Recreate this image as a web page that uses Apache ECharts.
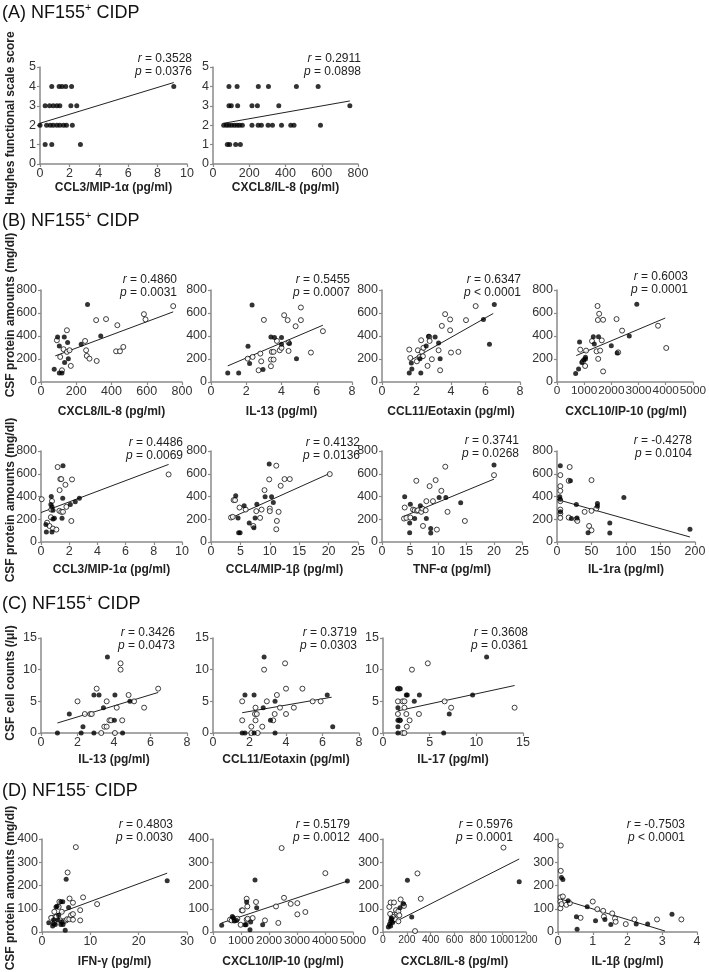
<!DOCTYPE html>
<html><head><meta charset="utf-8">
<script src="https://cdn.jsdelivr.net/npm/echarts@6/dist/echarts.min.js"></script>
<style>html,body{margin:0;padding:0;background:#fff}#c{width:709px;height:972px}</style>
</head><body><div id="c"></div>
<script>
// ---------- DATA ----------
// Panel A: Hughes functional scale score
const A1_filled = [[0.8,4],[1.3,4],[1.5,4],[1.75,4],[2.15,4],[9.1,4],
  [0.35,3],[0.65,3],[0.9,3],[1.15,3],[1.35,3],[2.1,3],[2.5,3],
  [0,2],[0.45,2],[0.7,2],[0.9,2],[1.15,2],[1.35,2],[1.6,2],[1.8,2],[2.2,2],
  [0.35,1],[0.8,1],[2.75,1]];
const A1_fit = [[0,2.1],[9.1,4.2]];
const A2_filled = [[88,4],[133,4],[250,4],[306,4],[460,4],[580,4],
  [88,3],[101,3],[136,3],[215,3],[245,3],[363,3],[755,3],
  [59,2],[74,2],[88,2],[103,2],[118,2],[133,2],[147,2],[162,2],[215,2],[249,2],[267,2],[304,2],[328,2],[378,2],[429,2],[447,2],[593,2],
  [79,1],[92,1],[125,1],[151,1]];
const A2_fit = [[59,2.1],[755,3.25]];

// Panel B: CSF protein amounts
const B1_filled = [[75,110],[94,392],[104,314],[104,78],[119,78],[132,392],[134,169],[151,343],[155,203],[228,328],[264,674],[339,401]];
const B1_open = [[90,363],[109,218],[119,102],[128,285],[147,450],[147,262],[162,276],[169,140],[250,357],[256,276],[260,227],[275,203],[313,538],[316,183],[369,547],[433,494],[426,267],[448,267],[467,305],[584,590],[593,544],[750,660]];
const B1_fit = [[81,227],[750,610]];

const B2_filled = [[0.95,78],[1.57,78],[2.1,311],[2.19,160],[2.33,670],[2.95,108],[3.4,392],[3.6,387],[4.0,387],[4.0,328],[4.45,334],[4.85,203]];
const B2_open = [[2.08,203],[2.36,218],[2.7,102],[2.8,247],[2.85,180],[3.0,540],[3.4,195],[3.4,137],[3.45,262],[3.55,262],[3.55,195],[3.74,357],[3.9,276],[4.0,297],[4.15,581],[4.35,538],[4.4,343],[4.4,270],[4.8,485],[5.1,648],[5.1,538],[5.67,256],[6.35,442]];
const B2_fit = [[0.95,140],[6.35,494]];

const B3_filled = [[1.58,78],[1.7,166],[1.73,113],[2.2,203],[2.25,78],[2.56,314],[2.7,398],[3.08,392],[3.28,340],[3.37,203],[5.88,544],[6.23,328],[6.51,674]];
const B3_open = [[1.58,282],[1.64,209],[2.02,180],[2.08,276],[2.18,218],[2.27,363],[2.31,262],[2.37,224],[2.4,297],[2.64,140],[2.74,392],[2.76,357],[2.89,198],[3.28,276],[3.37,102],[3.47,488],[3.66,590],[3.95,450],[3.95,544],[4.0,256],[4.43,262],[4.87,538],[5.43,660]];
const B3_fit = [[1.73,195],[6.45,596]];

const B4_filled = [[686,74],[794,113],[830,347],[915,169],[987,193],[1047,216],[1047,201],[1336,393],[1372,330],[1528,393],[1998,316],[2215,252],[2659,400],[2936,676]];
const B4_open = [[855,281],[951,178],[1035,139],[1071,273],[1288,356],[1456,267],[1492,661],[1504,539],[1552,593],[1516,201],[1588,273],[1648,362],[1697,541],[1697,92],[2191,547],[2251,258],[2395,447],[3718,489],[4019,296]];
const B4_fit = [[710,230],[3983,556]];

const B5_filled = [[0.38,88],[0.35,153],[0.73,400],[0.7,329],[0.78,309],[0.85,279],[0.85,203],[0.78,88],[0.95,209],[1.56,671],[1.49,209],[1.54,385],[2.08,329],[2.43,353],[2.72,385]];
const B5_open = [[0.05,376],[0.43,170],[0.6,141],[0.78,360],[0.73,285],[0.7,218],[0.85,118],[1.09,109],[1.18,659],[1.32,456],[1.37,553],[1.44,553],[1.3,274],[1.44,265],[1.56,265],[1.8,309],[1.73,503],[2.15,185],[2.2,550],[9.05,594]];
const B5_fit = [[0,259],[9.05,682]];

const B6_filled = [[4.2,406],[4.6,212],[4.7,82],[4.95,82],[5.64,318],[6.5,168],[7.3,126],[7.5,212],[7.8,332],[9.2,397],[9.9,685],[10.3,397],[10.6,347]];
const B6_open = [[3.4,215],[3.7,221],[3.85,368],[4.1,368],[4.85,303],[5.9,285],[7.2,141],[7.7,271],[8.35,212],[8.6,285],[9.1,456],[9.9,550],[10.0,294],[10.0,271],[11.1,671],[11.1,112],[11.2,185],[11.5,265],[11.85,494],[12.5,553],[13.4,553],[20.2,597]];
const B6_fit = [[3.4,212],[20.2,603]];

const B7_filled = [[4.05,397],[4.94,168],[4.94,82],[5.06,332],[5.83,206],[6.85,318],[7.92,206],[8.7,118],[8.7,79],[10.2,391],[11.4,391],[14.05,344],[20.0,676]];
const B7_open = [[4.05,303],[3.93,206],[4.35,212],[5.06,215],[5.54,285],[5.83,279],[6.13,538],[6.25,274],[6.43,279],[7.0,265],[7.2,294],[7.32,141],[7.8,279],[7.92,359],[8.5,491],[9.1,359],[9.58,544],[9.8,109],[10.6,450],[11.3,662],[11.7,265],[14.8,185],[20.0,588]];
const B7_fit = [[3.93,226],[20.0,553]];

const B8_filled = [[4.8,671],[3.9,397],[4.8,376],[4.8,265],[19.4,538],[20.8,206],[28,329],[29,212],[45,82],[58.6,338],[58.6,315],[76.5,168],[76.5,79],[96.9,391],[192.7,112]];
const B8_open = [[4.8,588],[4.8,491],[4.8,450],[4.8,359],[4.8,285],[4.8,250],[4.8,212],[18.4,659],[17,538],[17,215],[28,200],[29.5,185],[40,265],[46.5,141],[50,544],[50,274],[50,103],[57,294]];
const B8_fit = [[0,374],[192.7,44]];

// Panel C: CSF cell counts
const C1_filled = [[0.9,0],[1.55,3],[2.2,0],[2.3,1],[2.9,0],[2.9,6],[3.18,6],[3.42,4],[3.64,12],[4.05,6],[4.02,2],[4.47,0],[4.87,5]];
const C1_open = [[2.0,5],[2.4,3],[2.7,3],[2.78,3],[3.05,7],[3.3,0],[3.47,1],[3.6,1],[3.6,5],[3.75,2],[3.84,2],[4.05,0],[4.15,4],[4.36,11],[4.36,10],[4.45,2],[4.8,6],[5.1,5],[5.65,4],[6.42,7]];
const C1_fit = [[0.9,1.58],[6.42,6.4]];

const C2_filled = [[1.6,0],[1.75,0],[1.75,6],[2.25,6],[2.25,0],[2.8,12],[2.75,4],[3.15,2],[3.4,0],[3.4,5],[6.26,6],[6.56,1]];
const C2_open = [[1.6,2],[1.6,5],[2.1,0],[2.1,1],[2.33,4],[2.3,3],[2.4,3],[2.33,2],[2.45,0],[2.7,1],[2.8,10],[2.95,5],[3.3,2],[3.38,3],[3.5,6],[3.67,4],[3.95,11],[4.0,7],[4.0,3],[4.43,4],[4.9,7],[5.46,5],[5.9,5]];
const C2_fit = [[1.6,3.2],[6.5,5.65]];

const C3_filled = [[1.55,7],[1.85,7],[1.6,4],[1.6,2],[1.6,1],[1.6,0],[1.85,2],[2.5,6],[2.6,6],[3.35,5],[3.9,6],[6.5,0],[7.1,3],[9.6,6],[11.1,12]];
const C3_open = [[1.7,7],[1.6,5],[1.6,3],[1.77,2],[2.1,5],[2.3,5],[2.1,0],[2.3,0],[2.3,4],[2.5,3],[2.55,1],[2.85,2],[3.1,10],[3.85,3],[4.8,11],[6.6,5],[7.3,4],[14.1,4]];
const C3_fit = [[1.6,3.5],[14.1,7.5]];

// Panel D: NF155- CSF protein amounts
const D1_filled = [[1.4,40],[2.4,36],[2.4,53],[2.2,26],[2.75,32],[2.9,108],[3.1,111],[3.3,53],[3.45,72],[3.9,32],[3.9,130],[4.1,43],[4.3,130],[4.35,32],[4.8,7],[5.0,227],[5.5,105],[25.9,220]];
const D1_open = [[1.9,61],[2.55,87],[2.55,40],[2.97,65],[3.45,108],[3.6,130],[3.8,50],[4.1,87],[4.5,46],[5.0,50],[5.3,256],[5.2,55],[5.65,55],[5.7,144],[6.0,72],[6.4,77],[6.4,53],[6.4,126],[7.0,365],[7.9,94],[7.9,50],[8.5,149],[11.4,120]];
const D1_fit = [[1.4,65],[25.9,253]];

const D2_filled = [[310,29],[690,67],[726,61],[762,47],[845,50],[1143,31],[1179,31],[1202,129],[1321,10],[1345,43],[1500,224],[1560,104],[1774,31],[4800,219]];
const D2_open = [[607,53],[667,50],[786,53],[869,57],[1024,93],[1060,93],[988,31],[1202,53],[1202,143],[1226,110],[1238,57],[1417,60],[1536,129],[1857,50],[2250,110],[2333,39],[2452,361],[2536,147],[2774,121],[3012,124],[3012,76],[3298,86],[4012,253]];
const D2_fit = [[310,39],[4800,219]];

const D3_filled = [[45,22],[64,26],[73,55],[64,47],[81,41],[143,104],[171,122],[205,223],[241,65],[1143,216],[55,33],[70,60]];
const D3_open = [[53,108],[64,127],[92,127],[92,75],[101,55],[115,83],[109,94],[129,89],[129,46],[137,72],[148,140],[171,118],[176,112],[289,252],[269,4],[317,143],[1011,363],[80,66],[60,78]];
const D3_fit = [[45,29],[1143,314]];

const D4_filled = [[0.1,234],[0.14,226],[0.29,134],[0.53,66],[0.55,12],[0.84,109],[1.08,48],[1.35,54],[1.52,32],[2.25,34],[2.58,34],[3.28,76]];
const D4_open = [[0.08,372],[0.08,263],[0.07,149],[0.07,131],[0.07,102],[0.1,120],[0.14,153],[0.24,117],[0.34,124],[0.65,61],[1.0,131],[1.13,98],[1.3,91],[1.32,66],[1.56,80],[1.64,58],[1.66,44],[1.95,34],[2.2,54],[2.85,54],[3.55,54]];
const D4_fit = [[0.07,142],[3.08,4]];

// axis ranges [min, max, interval]
const xRanges = [[0,10,2],[0,800,200],[0,800,200],[0,8,2],[0,8,2],[0,5000,1000],[0,10,2],[0,25,5],[0,25,5],[0,200,50],[0,8,2],[0,8,2],[0,15,5],[0,30,10],[0,5000,1000],[0,1200,200],[0,4,1]];
const yRanges = [[0,5,1],[0,5,1],[0,800,200],[0,800,200],[0,800,200],[0,800,200],[0,800,200],[0,800,200],[0,800,200],[0,800,200],[0,15,5],[0,15,5],[0,15,5],[0,400,100],[0,400,100],[0,400,100],[0,400,100]];
const xTitles = ['CCL3/MIP-1α (pg/ml)','CXCL8/IL-8 (pg/ml)','CXCL8/IL-8 (pg/ml)','IL-13 (pg/ml)','CCL11/Eotaxin (pg/ml)','CXCL10/IP-10 (pg/ml)','CCL3/MIP-1α (pg/ml)','CCL4/MIP-1β (pg/ml)','TNF-α (pg/ml)','IL-1ra (pg/ml)','IL-13 (pg/ml)','CCL11/Eotaxin (pg/ml)','IL-17 (pg/ml)','IFN-γ (pg/ml)','CXCL10/IP-10 (pg/ml)','CXCL8/IL-8 (pg/ml)','IL-1β (pg/ml)'];
const rValues = ['0.3528','0.2911','0.4860','0.5455','0.6347','0.6003','0.4486','0.4132','0.3741','-0.4278','0.3426','0.3719','0.3608','0.4803','0.5179','0.5976','-0.7503'];
const pValues = ['= 0.0376','= 0.0898','= 0.0031','= 0.0007','< 0.0001','= 0.0001','= 0.0069','= 0.0136','= 0.0268','= 0.0104','= 0.0473','= 0.0303','= 0.0361','= 0.0030','= 0.0012','= 0.0001','< 0.0001'];
const panelTitles = [['(A) NF155','+',' CIDP'],['(B) NF155','+',' CIDP'],['(C) NF155','+',' CIDP'],['(D) NF155','-',' CIDP']];
const yTitles = ['Hughes functional scale score','CSF protein amounts (mg/dl)','CSF protein amounts (mg/dl)','CSF cell counts (/μl)','CSF protein amounts (mg/dl)'];

const filledSets = [A1_filled,A2_filled,B1_filled,B2_filled,B3_filled,B4_filled,B5_filled,B6_filled,B7_filled,B8_filled,C1_filled,C2_filled,C3_filled,D1_filled,D2_filled,D3_filled,D4_filled];
const openSets = [[],[],B1_open,B2_open,B3_open,B4_open,B5_open,B6_open,B7_open,B8_open,C1_open,C2_open,C3_open,D1_open,D2_open,D3_open,D4_open];
const fitSets = [A1_fit,A2_fit,B1_fit,B2_fit,B3_fit,B4_fit,B5_fit,B6_fit,B7_fit,B8_fit,C1_fit,C2_fit,C3_fit,D1_fit,D2_fit,D3_fit,D4_fit];

// ---------- LAYOUT ----------
// [left, right, top, bottom] in px
const boxes = [
  [40,187,67,164],[213,358,67,164],
  [41,182,290,382],[211,352,290,382],[382,520,290,382],[557,695,290,382],
  [41,182,451,542],[211,358,451,542],[382,522,451,542],[557,695,451,542],
  [41,187,638,733],[213,359,638,733],[383,523,638,733],
  [42,187,839,932],[213,353,839,932],[383,526,839,932],[558,697,839,932]
];
const xLabelSize = [12.5,12.5,12.5,12.5,12.5,11.8,12.5,12.5,12.5,12.5,12.5,12.5,12.5,12.5,11.8,10.4,12.5];
// stats text: [rightX, rY]
const statPos = [[192,59],[361,59],[177,280],[350,280],[521,280],[688,277],[183,443],[360,443],[519,441],[692,441],[175,633],[357,633],[528,633],[173,825],[350,825],[513,825],[685,825]];
const xTitleY = [188,188,412,412,412,412,570,570,570,570,760,760,760,962,962,962,962];
const panelTitleY = [12,220,603,790];
const yTitlePos = [[11,118],[11,315],[11,500],[11,683],[11,888]];

const FF = '"Liberation Sans", Arial, Helvetica, sans-serif';
const AXC = '#8a8a8a';
const plainNum = v => String(v);

const grid = [], xAxis = [], yAxis = [], series = [], graphic = [];
boxes.forEach((b, i) => {
  grid.push({left: b[0], top: b[2], width: b[1]-b[0], height: b[3]-b[2], containLabel: false});
  const axisCommon = {
    gridIndex: i, type: 'value',
    axisLine: {show: true, onZero: false, lineStyle: {color: AXC, width: 1.5}},
    axisTick: {show: true, length: 3, lineStyle: {color: AXC, width: 1.2}},
    splitLine: {show: false}
  };
  xAxis.push(Object.assign({}, axisCommon, {min: xRanges[i][0], max: xRanges[i][1], interval: xRanges[i][2],
    axisLabel: {fontSize: xLabelSize[i], color: '#333', fontFamily: FF, margin: 3, formatter: plainNum, showMinLabel: true, showMaxLabel: true, hideOverlap: false}}));
  yAxis.push(Object.assign({}, axisCommon, {min: yRanges[i][0], max: yRanges[i][1], interval: yRanges[i][2],
    axisLabel: {fontSize: 12.5, color: '#333', fontFamily: FF, margin: 4, formatter: plainNum, showMinLabel: true, showMaxLabel: true, hideOverlap: false}}));
  series.push({type: 'line', xAxisIndex: i, yAxisIndex: i, data: fitSets[i], showSymbol: false, symbol: 'none',
    lineStyle: {color: '#222', width: 1}, silent: true, z: 2, animation: false});
  series.push({type: 'scatter', xAxisIndex: i, yAxisIndex: i, data: openSets[i], symbol: 'circle', symbolSize: 5, clip: false,
    itemStyle: {color: '#fff', borderColor: '#111', borderWidth: 1}, z: 3, animation: false});
  series.push({type: 'scatter', xAxisIndex: i, yAxisIndex: i, data: filledSets[i], symbol: 'circle', symbolSize: 5, clip: false,
    itemStyle: {color: '#000'}, z: 4, animation: false});

  // stats text
  const sp = statPos[i];
  const statRich = {
    i: {fontStyle: 'italic', fontSize: 12, fontFamily: FF, fill: '#222', color: '#222'},
    n: {fontSize: 12, fontFamily: FF, fill: '#222', color: '#222'}
  };
  graphic.push({type: 'text', x: sp[0], y: sp[1], silent: true, z: 10,
    style: {text: '{i|r}{n| = ' + rValues[i] + '}', rich: statRich, align: 'right', textAlign: 'right', verticalAlign: 'middle', textVerticalAlign: 'middle', font: '12px ' + FF}});
  graphic.push({type: 'text', x: sp[0], y: sp[1] + 13, silent: true, z: 10,
    style: {text: '{i|p}{n| ' + pValues[i] + '}', rich: statRich, align: 'right', textAlign: 'right', verticalAlign: 'middle', textVerticalAlign: 'middle', font: '12px ' + FF}});
  // x title
  graphic.push({type: 'text', x: (b[0]+b[1])/2, y: xTitleY[i], silent: true,
    style: {text: xTitles[i], font: 'bold 12px ' + FF, fill: '#222', align: 'center', textAlign: 'center', verticalAlign: 'middle', textVerticalAlign: 'middle'}});
});

panelTitles.forEach((t, k) => {
  graphic.push({type: 'text', x: 2, y: panelTitleY[k], silent: true,
    style: {text: '{t|' + t[0] + '}{s|' + t[1] + '}{t|' + t[2] + '}',
      rich: {t: {fontSize: 18, fontFamily: FF, fill: '#111', color: '#111', lineHeight: 20, verticalAlign: 'bottom'},
             s: {fontSize: 11, fontFamily: FF, fill: '#111', color: '#111', lineHeight: 20, verticalAlign: 'top'}},
      align: 'left', textAlign: 'left', verticalAlign: 'middle', textVerticalAlign: 'middle', font: '18px ' + FF}});
});

yTitles.forEach((t, k) => {
  graphic.push({type: 'text', x: yTitlePos[k][0], y: yTitlePos[k][1], rotation: Math.PI/2, silent: true,
    style: {text: t, font: 'bold 12px ' + FF, fill: '#222', align: 'center', textAlign: 'center', verticalAlign: 'middle', textVerticalAlign: 'middle'}});
});

const chart = echarts.init(document.getElementById('c'), null, {renderer: 'canvas'});
chart.setOption({backgroundColor: '#fff', animation: false, grid, xAxis, yAxis, series, graphic});
</script>
</body></html>
